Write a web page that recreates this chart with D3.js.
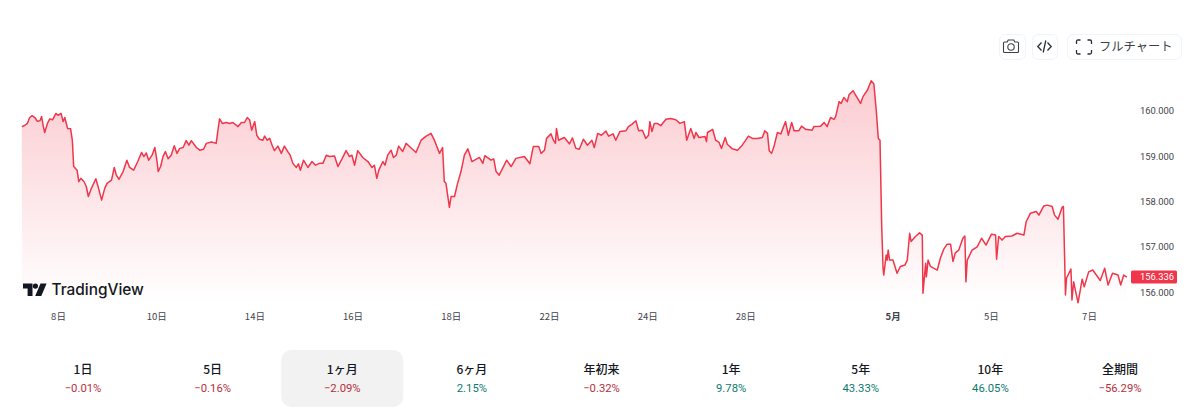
<!DOCTYPE html>
<html>
<head>
<meta charset="utf-8">
<script src="https://cdn.jsdelivr.net/npm/d3@7"></script>
<style>
  body { margin: 0; background: #fff; overflow: hidden; }
  text { font-family: Roboto, "Noto Sans CJK JP", sans-serif; }
</style>
</head>
<body>
<div id="chart"></div>
<script>
// bar number on a 10 minute trading time axis (144 bars per session)
var bars = [0,9,16,23,30,38,45,53,58,63,67,75,82,90,100,106,115,121,126,134,143,148,152,162,167,173,182,189,195,204,217,225,234,243,250,263,271,277,285,297,308,316,328,340,351,358,365,372,382,390,396,400,407,414,421,429,438,447,455,463,473,482,490,497,512,522,533,541,556,570,575,580,588,600,609,619,634,644,653,661,668,674,683,689,697,707,712,720,727,734,741,751,761,770,780,787,795,805,811,817,826,839,851,861,873,883,893,902,917,927,939,951,961,968,976,985,1000,1015,1027,1034,1041,1047,1059,1065,1073,1083,1090,1098,1105,
  1117,1127,1137,1156,1171,1186,1200,1210,1225,1234,1239,1244,1254,1259,1269,1278,1288,1298,1308,1320,1342,1352,1358,1376,1384,1391,1400,1410,1422,1435,1449,1474,1490,1500,1516,1523,1533,1539,1552,1559,1565,1568,1574,1591,1606,1615,1625,1635,1647,1659,1672,1679,1689,1700,1713,1721,1734,1742,1754,1772,1779,1789,1801,1809,1820,1830,1838,1842,1848,1855,1864,1874,1889,1903,1918,1930,1943,1950,1962,1972,1977,1986,2004,2008,2011,2026,2035,2045,2052,2063,2069,2084,2099,2113,2131,2143,2157,2172,2179,2187,2192,2199,2206,2216,2226,2240,2248,2258,2265,2279,
  2287,2299,2318,2323,2343,2353,2362,2372,2382,2387,2397,2403,2411,2421,2426,2438,2445,2460,2467,2480,2491,2499,2506,2512,2517,2522,2526,2528,2535,2538,2541,2545,2555,2567,2577,2590,2597,2604,2608,2621,2633,2641,2643,2651,2653,2658,2665,2685,2694,2704,2714,2724,2731,2738,2748,2760,2766,2769,2773,2787,2802,2815,2828,2844,2856,2859,2865,2875,2885,2904,2919,2939,2946,2958,2975,2983,2997,3007,3022,3029,3039,3051,3055,3061,3064,3077,3080,3085,3090,3098,3110,3116,3129,3141,3163,3176,3186,3199,3215,3223,3232,3241];

var prices = [159.65,159.68,159.72,159.85,159.89,159.85,159.77,159.78,159.87,159.65,159.52,159.72,159.82,159.80,159.94,159.90,159.94,159.76,159.85,159.61,159.60,159.35,158.77,158.69,158.44,158.51,158.44,158.33,158.11,158.29,158.50,158.29,158.03,158.29,158.40,158.47,158.75,158.58,158.49,158.66,158.91,158.75,158.69,158.88,159.08,158.99,159.07,158.91,159.02,159.19,158.91,158.66,158.77,158.99,159.10,158.94,159.02,159.23,159.06,159.17,159.19,159.34,159.24,159.34,159.19,159.13,159.15,159.28,159.31,159.28,159.57,159.82,159.72,159.74,159.72,159.74,159.65,159.74,159.74,159.85,159.80,159.57,159.76,159.46,159.37,159.35,159.44,159.35,159.39,159.24,159.12,159.22,159.06,159.22,159.10,159.02,158.84,158.75,158.83,158.69,158.91,158.75,158.88,158.80,158.84,158.84,159.02,158.99,159.00,158.77,158.94,159.12,158.99,159.02,158.80,159.12,158.97,158.88,158.75,158.80,158.51,158.69,158.88,158.80,159.02,159.13,158.97,159.02,159.22,
  159.10,159.28,159.21,159.08,159.35,159.44,159.50,159.35,159.06,159.19,158.44,158.40,157.87,158.11,158.11,158.40,158.66,159.02,159.16,158.88,158.97,158.84,159.01,158.91,158.94,158.66,158.58,158.73,158.91,158.77,158.95,158.99,158.83,159.21,159.21,159.06,159.13,159.39,159.49,159.35,159.28,159.61,159.35,159.41,159.27,159.40,159.17,159.15,159.37,159.24,159.35,159.19,159.50,159.46,159.55,159.44,159.49,159.35,159.54,159.56,159.65,159.70,159.78,159.56,159.57,159.39,159.46,159.76,159.54,159.72,159.72,159.67,159.81,159.83,159.80,159.72,159.76,159.35,159.61,159.39,159.52,159.41,159.43,159.32,159.52,159.59,159.35,159.30,159.17,159.41,159.26,159.16,159.13,159.24,159.44,159.39,159.39,159.41,159.56,159.50,159.12,159.06,159.21,159.52,159.49,159.76,159.46,159.74,159.56,159.56,
  159.66,159.59,159.57,159.65,159.66,159.74,159.65,159.85,159.81,159.87,160.20,160.16,160.29,160.20,160.35,160.44,160.35,160.16,160.31,160.45,160.66,160.59,160.01,159.39,159.35,157.45,156.53,156.38,156.82,156.71,156.93,156.71,156.71,156.42,156.57,156.60,156.71,157.30,157.12,157.23,157.31,157.26,155.98,156.64,156.34,156.71,156.57,156.49,156.75,156.95,157.06,157.06,156.68,156.87,156.93,157.19,157.24,156.23,156.71,156.93,157.00,157.19,157.04,157.28,157.26,156.73,157.23,157.15,157.23,157.24,157.30,157.26,157.56,157.74,157.78,157.70,157.90,157.92,157.89,157.70,157.61,157.87,157.89,155.94,156.31,156.51,155.83,156.23,156.05,155.77,156.29,156.12,156.45,156.49,156.26,156.53,156.16,156.42,156.38,156.16,156.38,156.336];

var dayBars = [106,394,682,970,1258,1546,1834,2122,2554,2842,3130];
var dayLabels = ["8日","10日","14日","16日","18日","22日","24日","28日","5月","5日","7日"];
var priceTicks = [160,159,158,157,156];
var lastPrice = 156.336;

var periods = ["1日","5日","1ヶ月","6ヶ月","年初来","1年","5年","10年","全期間"];
var changes = [-0.01,-0.16,-2.09,2.15,-0.32,9.78,43.33,46.05,-56.29];
var activePeriod = 2;

var RED = "#f0364a";

var svg = d3.select("#chart").append("svg")
  .attr("width", 1200)
  .attr("height", 418)
  .style("display", "block");

var x = d3.scaleLinear().domain([106, 3130]).range([58, 1089]);
var y = d3.scaleLinear().domain([156, 160]).range([292.3, 110.7]);
var areaBottom = 303;

var points = bars.map(function (b, i) { return [b, prices[i]]; });

var grad = svg.append("defs").append("linearGradient")
  .attr("id", "fade")
  .attr("gradientUnits", "userSpaceOnUse")
  .attr("x1", 0).attr("x2", 0)
  .attr("y1", 80).attr("y2", areaBottom);
grad.append("stop").attr("offset", 0).attr("stop-color", RED).attr("stop-opacity", 0.26);
grad.append("stop").attr("offset", 1).attr("stop-color", RED).attr("stop-opacity", 0);

svg.append("path")
  .datum(points)
  .attr("fill", "url(#fade)")
  .attr("d", d3.area()
    .x(function (d) { return x(d[0]); })
    .y0(areaBottom)
    .y1(function (d) { return y(d[1]); }));

svg.append("path")
  .datum(points)
  .attr("fill", "none")
  .attr("stroke", RED)
  .attr("stroke-width", 1.5)
  .attr("stroke-linejoin", "round")
  .attr("d", d3.line()
    .x(function (d) { return x(d[0]); })
    .y(function (d) { return y(d[1]); }));

// axes
var xAxis = svg.append("g")
  .attr("transform", "translate(0,312)")
  .call(d3.axisBottom(x)
    .tickValues(dayBars)
    .tickSize(0)
    .tickPadding(0)
    .tickFormat(function (d, i) { return dayLabels[i]; }));
xAxis.select(".domain").remove();
xAxis.selectAll("text")
  .attr("y", 0)
  .attr("dy", "0.8em")
  .attr("fill", "#3f434d")
  .attr("font-size", 9.5)
  .attr("font-weight", function (d, i) { return dayLabels[i] == "5月" ? 700 : 400; })
  .style("font-family", '"Noto Sans CJK JP", sans-serif');

var yAxis = svg.append("g")
  .attr("transform", "translate(1140,0)")
  .call(d3.axisRight(y)
    .tickValues(priceTicks)
    .tickSize(0)
    .tickPadding(0)
    .tickFormat(d3.format(".3f")));
yAxis.select(".domain").remove();
yAxis.selectAll("text")
  .attr("fill", "#3f434d")
  .attr("font-size", 9.4);

// last price tag
svg.append("rect")
  .attr("x", 1131).attr("y", y(lastPrice) - 6.5)
  .attr("width", 46).attr("height", 13)
  .attr("rx", 1.5)
  .attr("fill", RED);
svg.append("text")
  .attr("x", 1140).attr("y", y(lastPrice) + 3.4)
  .attr("fill", "#fff")
  .attr("font-size", 9.4)
  .text(d3.format(".3f")(lastPrice));

// TradingView logo
var logo = svg.append("g").attr("transform", "translate(23,283.5)");
logo.append("path")
  .attr("fill", "#131722")
  .attr("d", "M0 0H9.5V12.5H4.6V5H0Z");
logo.append("circle").attr("cx", 12.4).attr("cy", 2.6).attr("r", 2.6).attr("fill", "#131722");
logo.append("path")
  .attr("fill", "#131722")
  .attr("d", "M17.5 0H23.6L18.3 12.5H12.2Z");
svg.append("text")
  .attr("x", 51.5).attr("y", 295)
  .attr("fill", "#131722")
  .attr("font-size", 15.4)
  .attr("font-weight", 500)
  .style("font-family", "Inter, sans-serif")
  .text("TradingView");

// toolbar
var boxes = [[999, 26], [1032, 25], [1067, 114]];
svg.selectAll(".toolbox").data(boxes).enter().append("rect")
  .attr("class", "toolbox")
  .attr("x", function (d) { return d[0] + 0.5; })
  .attr("y", 34.5)
  .attr("width", function (d) { return d[1]; })
  .attr("height", 25)
  .attr("rx", 6)
  .attr("fill", "#fff")
  .attr("stroke", "#f0f3fa");

var camera = svg.append("g")
  .attr("transform", "translate(1003,39.5)")
  .attr("fill", "none")
  .attr("stroke", "#3c3f47")
  .attr("stroke-width", 1.1);
camera.append("path")
  .attr("d", "M0.5 3.5Q0.5 2.5 1.5 2.5H4.2L5.2 0.5H10.8L11.8 2.5H14.5Q15.5 2.5 15.5 3.5V12Q15.5 13 14.5 13H1.5Q0.5 13 0.5 12Z");
camera.append("circle").attr("cx", 8).attr("cy", 7.5).attr("r", 3.2);

svg.append("path")
  .attr("transform", "translate(1037,40)")
  .attr("fill", "none")
  .attr("stroke", "#2a2e39")
  .attr("stroke-width", 1.3)
  .attr("d", "M4.5 2.5L0.8 6.5L4.5 10.5M10.5 2.5L14.2 6.5L10.5 10.5M8.8 0.5L6.2 12.5");

svg.append("path")
  .attr("transform", "translate(1076,39.5)")
  .attr("fill", "none")
  .attr("stroke", "#2a2e39")
  .attr("stroke-width", 1.3)
  .attr("d", "M0.5 4.5V2Q0.5 0.5 2 0.5H4.5M11.5 0.5H14Q15.5 0.5 15.5 2V4.5M15.5 10.5V13Q15.5 14.5 14 14.5H11.5M4.5 14.5H2Q0.5 14.5 0.5 13V10.5");

svg.append("text")
  .attr("x", 1099).attr("y", 51)
  .attr("fill", "#3c3f47")
  .attr("font-size", 12.3)
  .style("font-family", '"Noto Sans CJK JP", sans-serif')
  .text("フルチャート");

// period strip
var tabX = d3.scalePoint().domain(periods).range([83, 1120]);

svg.append("rect")
  .attr("x", tabX(periods[activePeriod]) - 61).attr("y", 350)
  .attr("width", 122).attr("height", 57)
  .attr("rx", 10)
  .attr("fill", "#f2f2f2");

var tabs = svg.selectAll(".tab").data(periods).enter().append("g")
  .attr("class", "tab")
  .attr("transform", function (d) { return "translate(" + tabX(d) + ",0)"; })
  .attr("text-anchor", "middle");

tabs.append("text")
  .attr("y", 373.5)
  .attr("fill", "#131722")
  .attr("font-size", 12)
  .attr("font-weight", 500)
  .style("font-family", '"Noto Sans CJK JP", sans-serif')
  .text(function (d) { return d; });

tabs.append("text")
  .attr("y", 391.5)
  .attr("fill", function (d, i) { return changes[i] < 0 ? "#b5303c" : "#0b7a6d"; })
  .attr("font-size", 11.3)
  .text(function (d, i) {
    return (changes[i] < 0 ? "\u2212" : "") + Math.abs(changes[i]).toFixed(2) + "%";
  });
</script>
</body>
</html>
